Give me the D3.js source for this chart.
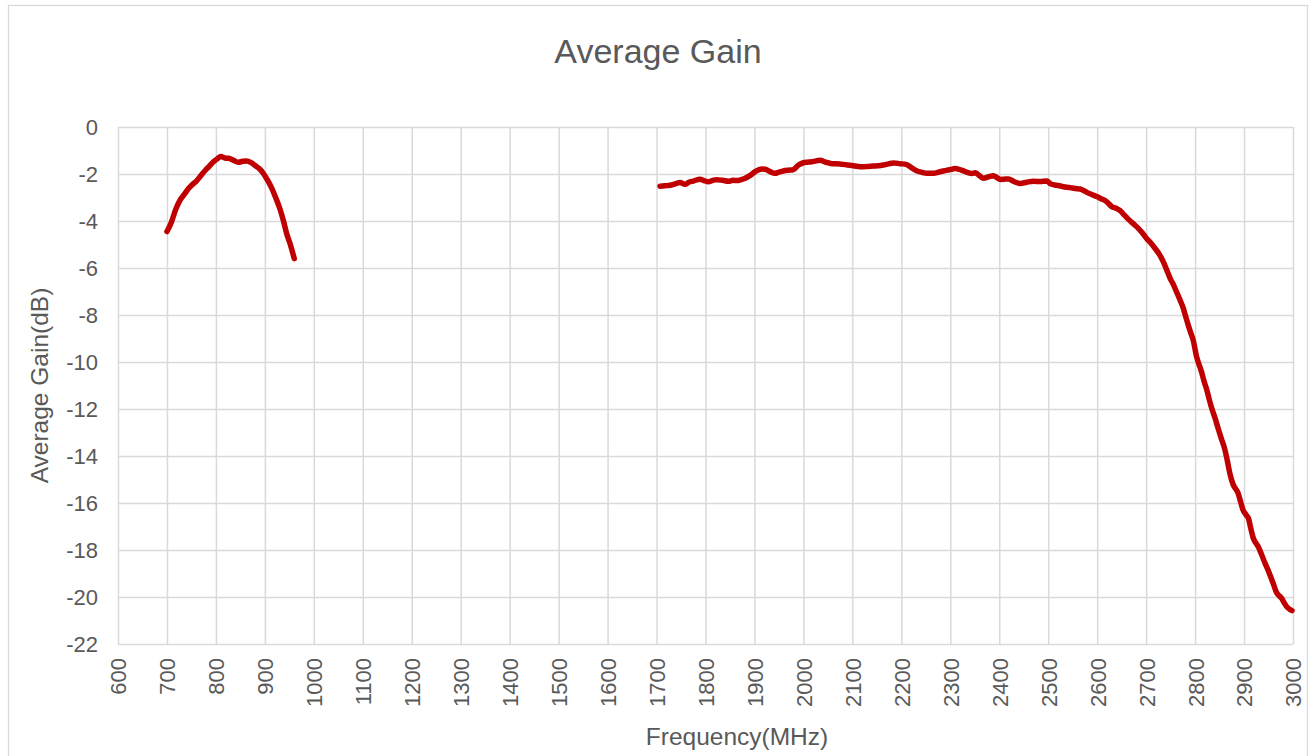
<!DOCTYPE html>
<html>
<head>
<meta charset="utf-8">
<script src="https://cdn.jsdelivr.net/npm/d3@7"></script>
<style>
  html, body { margin: 0; padding: 0; background: #fff; }
  svg { display: block; }
  text { font-family: "Liberation Sans", Arial, sans-serif; fill: #595959; }
</style>
</head>
<body>
<svg id="chart" width="1314" height="756"></svg>
<script>
// ---- Data ----
const chartTitle = "Average Gain";
const xAxisTitle = "Frequency(MHz)";
const yAxisTitle = "Average Gain(dB)";

const xTicks = [600,700,800,900,1000,1100,1200,1300,1400,1500,1600,1700,1800,1900,2000,2100,2200,2300,2400,2500,2600,2700,2800,2900,3000];
const yTicks = [0,-2,-4,-6,-8,-10,-12,-14,-16,-18,-20,-22];

const freqLow = [700,709,718,727,736,744,752,761,770,778,786,795,803,810,818,826,836,846,855,863,872,880,889,897,905,914,922,931,938,944,952,960];
const gainLow = [-4.45,-4.05,-3.5,-3.1,-2.85,-2.62,-2.45,-2.28,-2.05,-1.85,-1.68,-1.48,-1.35,-1.25,-1.32,-1.33,-1.42,-1.5,-1.46,-1.45,-1.52,-1.64,-1.78,-1.98,-2.25,-2.6,-3.0,-3.5,-4.0,-4.5,-5.0,-5.6];

const freqHigh = [1707,1717,1727,1738,1748,1758,1766,1775,1789,1797,1806,1815,1823,1835,1847,1856,1864,1873,1881,1888,1894,1900,1908,1915,1922,1932,1942,1950,1959,1969,1979,1990,2000,2008,2017,2026,2034,2046,2058,2066,2075,2085,2095,2105,2116,2130,2143,2153,2163,2174,2184,2197,2211,2220,2231,2242,2252,2266,2276,2286,2298,2310,2318,2327,2336,2344,2351,2360,2368,2378,2388,2395,2402,2410,2419,2430,2443,2456,2470,2483,2497,2505,2517,2531,2545,2555,2565,2572,2579,2590,2599,2608,2616,2623,2630,2638,2647,2655,2664,2674,2684,2692,2701,2710,2718,2727,2735,2742,2749,2756,2762,2769,2776,2781,2786,2791,2796,2803,2808,2813,2818,2824,2829,2834,2841,2847,2854,2861,2866,2871,2878,2883,2888,2893,2898,2904,2909,2914,2919,2924,2929,2936,2943,2948,2953,2960,2967,2972,2977,2982,2987,2993,2998];
const gainHigh = [-2.52,-2.5,-2.48,-2.42,-2.36,-2.44,-2.35,-2.3,-2.22,-2.28,-2.33,-2.27,-2.24,-2.27,-2.31,-2.27,-2.28,-2.24,-2.18,-2.1,-2.02,-1.92,-1.83,-1.79,-1.8,-1.9,-1.97,-1.92,-1.87,-1.84,-1.82,-1.62,-1.52,-1.5,-1.48,-1.44,-1.42,-1.5,-1.56,-1.56,-1.57,-1.6,-1.63,-1.66,-1.69,-1.68,-1.66,-1.65,-1.62,-1.57,-1.53,-1.56,-1.6,-1.72,-1.86,-1.93,-1.97,-1.97,-1.92,-1.87,-1.82,-1.77,-1.8,-1.87,-1.94,-1.98,-1.95,-2.08,-2.18,-2.12,-2.07,-2.15,-2.23,-2.22,-2.21,-2.32,-2.4,-2.35,-2.31,-2.32,-2.3,-2.42,-2.48,-2.54,-2.58,-2.62,-2.64,-2.7,-2.78,-2.88,-2.96,-3.05,-3.13,-3.25,-3.39,-3.45,-3.56,-3.74,-3.93,-4.12,-4.31,-4.5,-4.74,-4.95,-5.16,-5.42,-5.73,-6.08,-6.44,-6.72,-7.01,-7.35,-7.72,-8.08,-8.43,-8.75,-9.06,-9.77,-10.1,-10.41,-10.8,-11.19,-11.6,-11.97,-12.4,-12.82,-13.28,-13.74,-14.22,-14.74,-15.23,-15.4,-15.59,-15.95,-16.3,-16.5,-16.65,-17.1,-17.5,-17.7,-17.86,-18.2,-18.57,-18.8,-19.06,-19.45,-19.84,-19.95,-20.06,-20.25,-20.41,-20.52,-20.58];

// ---- Layout ----
const svg = d3.select("#chart");
const plot = { left: 118, right: 1293, top: 127, bottom: 644 };

const x = d3.scaleLinear().domain([600, 3000]).range([plot.left, plot.right]);
const y = d3.scaleLinear().domain([-22, 0]).range([plot.bottom, plot.top]);

// chart border
svg.append("rect")
  .attr("x", 8.5).attr("y", 5.5)
  .attr("width", 1299).attr("height", 780)
  .attr("fill", "#fff").attr("stroke", "#d9d9d9").attr("stroke-width", 1.3);

// title
svg.append("text")
  .attr("x", 658).attr("y", 63)
  .attr("text-anchor", "middle")
  .style("font-size", "34px")
  .style("fill", "#595959")
  .text(chartTitle);

// gridlines via axes
const gx = svg.append("g")
  .attr("transform", `translate(0,${plot.bottom})`)
  .call(d3.axisBottom(x).tickValues(xTicks).tickSize(-(plot.bottom - plot.top)).tickFormat(d3.format("d")).tickPadding(0));
gx.select(".domain").remove();
gx.selectAll(".tick line").attr("stroke", "#d9d9d9").attr("stroke-width", 1.5);
gx.selectAll(".tick text")
  .attr("transform", "rotate(-90)")
  .attr("x", -14).attr("y", 0).attr("dy", "0.36em")
  .attr("text-anchor", "end")
  .style("font-size", "22px").style("fill", "#595959");

const gy = svg.append("g")
  .attr("transform", `translate(${plot.left},0)`)
  .call(d3.axisLeft(y).tickValues(yTicks).tickSize(-(plot.right - plot.left)).tickFormat(d3.format("d")).tickPadding(20));
gy.select(".domain").remove();
gy.selectAll(".tick line").attr("stroke", "#d9d9d9").attr("stroke-width", 1.5);
gy.selectAll(".tick text")
  .style("font-size", "22px").style("fill", "#595959")
  .text(d => d < 0 ? "-" + Math.abs(d) : String(d));

// axis titles
svg.append("text")
  .attr("x", 737).attr("y", 745)
  .attr("text-anchor", "middle")
  .style("font-size", "24.5px")
  .text(xAxisTitle);

svg.append("text")
  .attr("transform", `translate(48,${(plot.top + plot.bottom) / 2}) rotate(-90)`)
  .attr("text-anchor", "middle")
  .style("font-size", "24.5px")
  .text(yAxisTitle);

// lines
const line = d3.line()
  .x(d => x(d[0]))
  .y(d => y(d[1]))
  .curve(d3.curveMonotoneX);

const seriesLow = freqLow.map((f, i) => [f, gainLow[i]]);
const seriesHigh = freqHigh.map((f, i) => [f, gainHigh[i]]);

[seriesLow, seriesHigh].forEach(s => {
  svg.append("path")
    .datum(s)
    .attr("d", line)
    .attr("fill", "none")
    .attr("stroke", "#c00000")
    .attr("stroke-width", 5.5)
    .attr("stroke-linecap", "round")
    .attr("stroke-linejoin", "round");
});
</script>
</body>
</html>
